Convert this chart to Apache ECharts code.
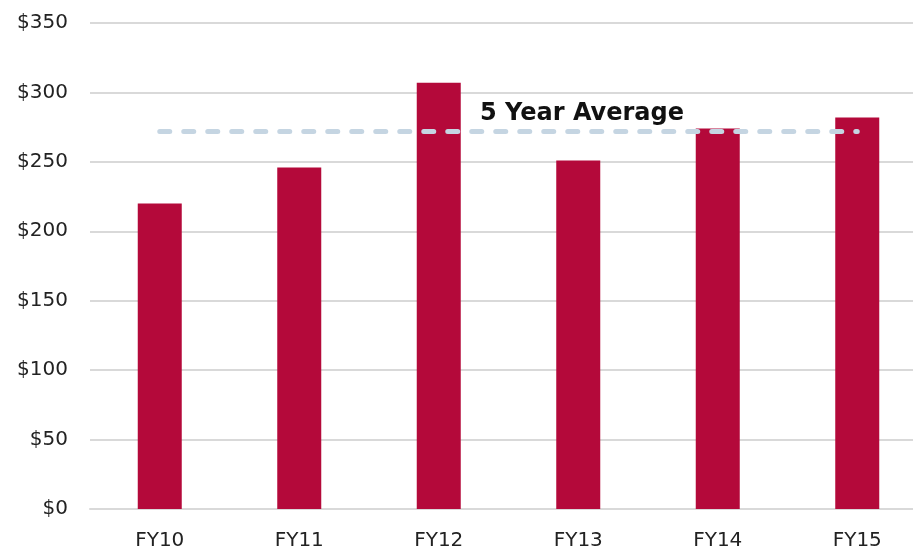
<!DOCTYPE html>
<html>
<head>
<meta charset="utf-8">
<script src="https://cdn.jsdelivr.net/npm/echarts@6/dist/echarts.min.js"></script>
<style>
  html, body { margin: 0; padding: 0; background: #fff; overflow: hidden; }
  /* the plot runs a bit past the right edge of the picture, so the box is wider than the window */
  #chart { width: 927px; height: 548px; }
</style>
</head>
<body>
<div id="chart"></div>
<script>
var categories = ['FY10', 'FY11', 'FY12', 'FY13', 'FY14', 'FY15'];
var values = [220, 246, 307, 251, 274, 282];
var average = 272; // 5 year average (FY11-FY15)
var yTicks = [0, 350, 50]; // min, max, interval

var myChart = echarts.init(document.getElementById('chart'));
var option = {
    animation: false,
    textStyle: { fontFamily: '"DejaVu Sans", sans-serif' },
    title: {
        text: '5 Year Average',
        left: 475,
        top: 97,
        textStyle: { fontSize: 24, fontWeight: 'bold', color: '#111', fontFamily: '"DejaVu Sans", sans-serif' }
    },
    grid: { left: 90, top: 23, right: 0, bottom: 39, outerBoundsMode: 'none' },
    xAxis: {
        type: 'category',
        data: categories,
        axisTick: { show: false },
        axisLine: { lineStyle: { color: '#d9d9d9', width: 2 } },
        axisLabel: { color: '#222', fontSize: 20, margin: 22 }
    },
    yAxis: {
        type: 'value',
        min: yTicks[0],
        max: yTicks[1],
        interval: yTicks[2],
        axisLine: { show: false },
        axisTick: { show: false },
        splitLine: { lineStyle: { color: '#d9d9d9', width: 2 } },
        axisLabel: { color: '#222', fontSize: 20, margin: 22, formatter: '${value}' }
    },
    series: [{
        type: 'bar',
        data: values,
        barWidth: 44,
        itemStyle: { color: '#b4093a' },
        markLine: {
            symbol: 'none',
            silent: true,
            label: { show: false },
            lineStyle: { color: '#c5d5e2', width: 5, type: [10, 14], cap: 'round' },
            data: [[
                { coord: [categories[0], average] },
                { coord: [categories[categories.length - 1], average] }
            ]]
        }
    }]
};
myChart.setOption(option);
</script>
</body>
</html>
